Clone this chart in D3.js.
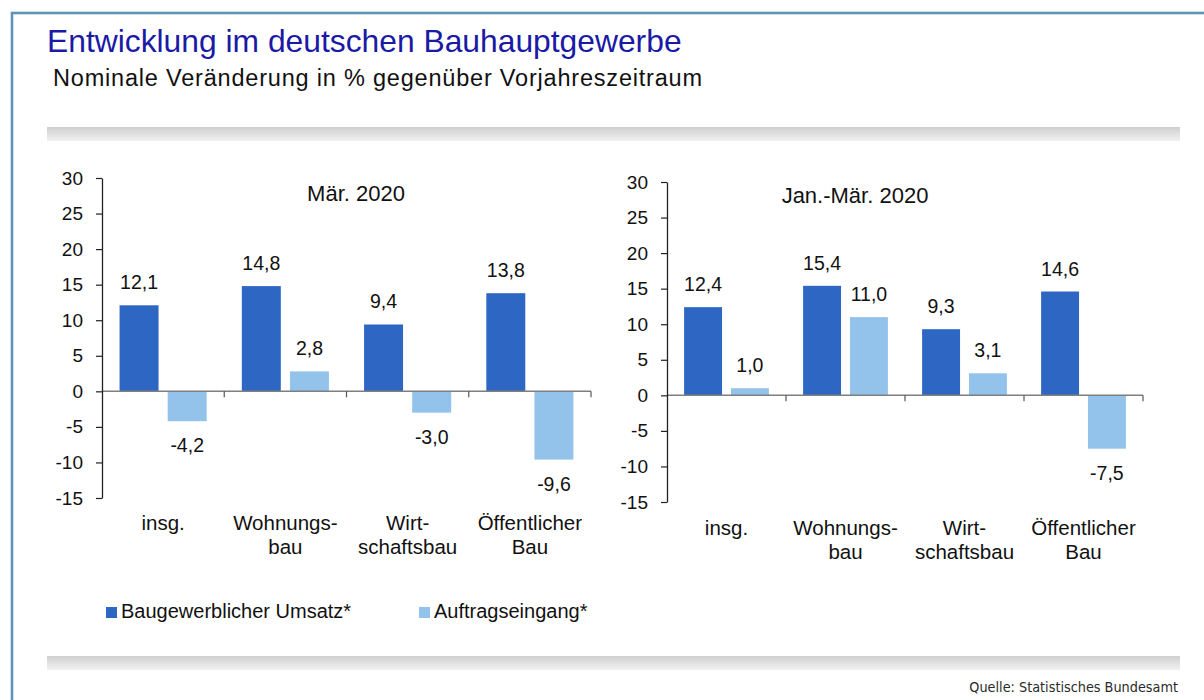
<!DOCTYPE html>
<html>
<head>
<meta charset="utf-8">
<script src="https://cdn.jsdelivr.net/npm/d3@7"></script>
<style>
  body { margin: 0; background: #fff; }
  svg { display: block; font-family: "Liberation Sans", Arial, sans-serif; }
</style>
</head>
<body>
<div id="chart"></div>
<script>
// data
const categories = ["insg.", "Wohnungs-|bau", "Wirt-|schaftsbau", "Öffentlicher|Bau"];
const series = ["Baugewerblicher Umsatz*", "Auftragseingang*"];
const umsatzMaerz = [12.1, 14.8, 9.4, 13.8];
const auftragMaerz = [-4.2, 2.8, -3.0, -9.6];
const umsatzJanMaerz = [12.4, 15.4, 9.3, 14.6];
const auftragJanMaerz = [1.0, 11.0, 3.1, -7.5];
const yTicks = [-15, -10, -5, 0, 5, 10, 15, 20, 25, 30];
const colors = ["#2E67C3", "#93C3EA"];

const de = d3.formatLocale({decimal: ",", thousands: ".", grouping: [3], currency: ["", " €"], minus: "-"});
const fmt = de.format(".1f");
const fmtTick = de.format("d");

const W = 1204, H = 700;
const svg = d3.select("#chart").append("svg")
    .attr("width", W)
    .attr("height", H);

// frame
svg.append("rect")
    .attr("x", 12).attr("y", 13)
    .attr("width", W + 20).attr("height", H + 20)
    .attr("fill", "none")
    .attr("stroke", "#9cc3da")
    .attr("stroke-width", 3);
svg.append("rect")
    .attr("x", 12).attr("y", 13)
    .attr("width", W + 20).attr("height", H + 20)
    .attr("fill", "none")
    .attr("stroke", "#4a84a6")
    .attr("stroke-width", 1.5);

// title
svg.append("text")
    .attr("x", 47).attr("y", 52)
    .attr("font-size", 31.8)
    .attr("fill", "#1a1aa6")
    .text("Entwicklung im deutschen Bauhauptgewerbe");
svg.append("text")
    .attr("x", 53).attr("y", 86)
    .attr("font-size", 23.5)
    .attr("letter-spacing", 0.8)
    .attr("fill", "#111")
    .text("Nominale Veränderung in % gegenüber Vorjahreszeitraum");

// grey bars
const grad = svg.append("defs").append("linearGradient")
    .attr("id", "greyGrad").attr("x1", 0).attr("y1", 0).attr("x2", 0).attr("y2", 1);
grad.append("stop").attr("offset", "0%").attr("stop-color", "#cfcfcf");
grad.append("stop").attr("offset", "100%").attr("stop-color", "#f2f2f2");

[127, 656].forEach(y => {
    svg.append("rect")
        .attr("x", 47).attr("y", y)
        .attr("width", 1133).attr("height", 14)
        .attr("fill", "url(#greyGrad)");
});

// source
svg.append("text")
    .attr("x", 1178).attr("y", 692)
    .attr("text-anchor", "end")
    .attr("font-family", "'Liberation Sans Narrow', 'DejaVu Sans Condensed', sans-serif")
    .attr("font-size", 14.3)
    .attr("fill", "#2a2a2a")
    .text("Quelle: Statistisches Bundesamt");

function drawChart(cfg) {
    const rows = categories.map((c, i) => ({cat: c, values: [cfg.umsatz[i], cfg.auftrag[i]]}));

    const x = d3.scaleBand()
        .domain(categories)
        .range([cfg.x0, cfg.x1])
        .paddingInner(0)
        .paddingOuter(0);

    const xSub = d3.scaleBand()
        .domain([0, 1])
        .range([0, x.bandwidth()])
        .paddingInner(0.19)
        .paddingOuter(0.365);

    const y = d3.scaleLinear()
        .domain([-15, 30])
        .range([cfg.yBottom, cfg.yTop]);

    const g = svg.append("g");

    // bars
    const groups = g.selectAll(".cat")
        .data(rows)
        .enter()
        .append("g")
        .attr("class", "cat")
        .attr("transform", d => `translate(${x(d.cat)},0)`);

    groups.selectAll("rect")
        .data(d => d.values.map((v, i) => ({v: v, i: i})))
        .enter()
        .append("rect")
        .attr("x", d => xSub(d.i))
        .attr("y", d => y(Math.max(0, d.v)))
        .attr("width", xSub.bandwidth())
        .attr("height", d => Math.abs(y(d.v) - y(0)))
        .attr("fill", d => colors[d.i]);

    groups.selectAll(".val")
        .data(d => d.values.map((v, i) => ({v: v, i: i})))
        .enter()
        .append("text")
        .attr("class", "val")
        .attr("x", d => xSub(d.i) + xSub.bandwidth() / 2)
        .attr("y", d => d.v >= 0 ? y(d.v) - 16 : y(d.v) + 31)
        .attr("text-anchor", "middle")
        .attr("font-size", 19.5)
        .attr("fill", "#111")
        .text(d => fmt(d.v));

    // zero line with category ticks
    g.append("line")
        .attr("x1", cfg.x0).attr("x2", cfg.x1)
        .attr("y1", y(0)).attr("y2", y(0))
        .attr("stroke", "#7f7f7f")
        .attr("stroke-width", 1.5);

    g.selectAll(".ctick")
        .data(categories)
        .enter()
        .append("line")
        .attr("x1", d => x(d) + x.bandwidth())
        .attr("x2", d => x(d) + x.bandwidth())
        .attr("y1", y(0)).attr("y2", y(0) + 6)
        .attr("stroke", "#555")
        .attr("stroke-width", 1.2);

    // category labels
    const labels = g.selectAll(".clabel")
        .data(categories)
        .enter()
        .append("text")
        .attr("class", "clabel")
        .attr("text-anchor", "middle")
        .attr("font-size", 20.5)
        .attr("fill", "#111");
    labels.selectAll("tspan")
        .data(d => d.split("|").map(t => ({t: t, c: d})))
        .enter()
        .append("tspan")
        .attr("x", d => x(d.c) + x.bandwidth() / 2)
        .attr("y", (d, i) => cfg.labelY + i * 24)
        .text(d => d.t);

    // y axis
    const yAxis = g.append("g")
        .attr("transform", `translate(${cfg.x0},0)`)
        .call(d3.axisLeft(y).tickValues(yTicks).tickFormat(fmtTick).tickSize(6).tickSizeOuter(0).tickPadding(13));
    yAxis.select(".domain").attr("stroke", "#222").attr("stroke-width", 1.3);
    yAxis.selectAll(".tick line").attr("stroke", "#222").attr("stroke-width", 1.2);
    yAxis.selectAll(".tick text")
        .attr("font-size", 19)
        .attr("font-family", "'Liberation Sans', Arial, sans-serif")
        .attr("fill", "#111");

    // panel title
    g.append("text")
        .attr("x", cfg.titleX)
        .attr("y", cfg.titleY)
        .attr("text-anchor", "middle")
        .attr("font-size", 22)
        .attr("fill", "#111")
        .text(cfg.title);
}

drawChart({umsatz: umsatzMaerz, auftrag: auftragMaerz, title: "Mär. 2020",
    x0: 102, x1: 591, yTop: 178, yBottom: 498, labelY: 530, titleX: 356, titleY: 201});
drawChart({umsatz: umsatzJanMaerz, auftrag: auftragJanMaerz, title: "Jan.-Mär. 2020",
    x0: 667, x1: 1143, yTop: 182, yBottom: 502, labelY: 535, titleX: 855, titleY: 203});

// legend
const legend = svg.append("g");
const legendX = [106, 419];
series.forEach((s, i) => {
    legend.append("rect")
        .attr("x", legendX[i]).attr("y", 607)
        .attr("width", 11).attr("height", 11)
        .attr("fill", colors[i]);
    legend.append("text")
        .attr("x", legendX[i] + 15).attr("y", 618)
        .attr("font-size", 20)
        .attr("fill", "#111")
        .text(s);
});
</script>
</body>
</html>
